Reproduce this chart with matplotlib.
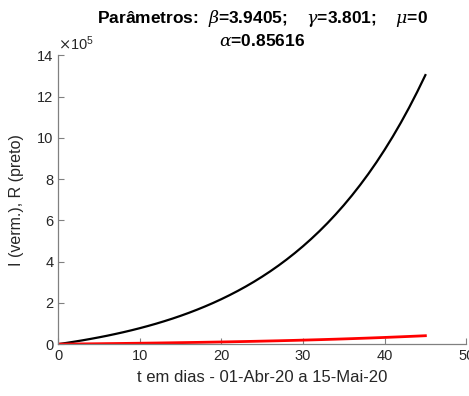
import matplotlib
matplotlib.use('Agg')
import matplotlib.pyplot as plt

# dias 0..45 (01-Abr-20 a 15-Mai-20)
t = list(range(0, 46))
# R (preto), em unidades de 1e5
R = [0, 0.058, 0.120, 0.185, 0.255, 0.329, 0.407, 0.491, 0.579, 0.673,
     0.773, 0.879, 0.991, 1.111, 1.237, 1.372, 1.515, 1.667, 1.828, 1.999,
     2.181, 2.374, 2.579, 2.796, 3.027, 3.273, 3.533, 3.810, 4.104, 4.416,
     4.747, 5.099, 5.472, 5.868, 6.290, 6.736, 7.211, 7.715, 8.249, 8.817,
     9.422, 10.062, 10.743, 11.466, 12.234, 13.047]
# I (vermelho), em unidades de 1e5
I = [0, 0.004, 0.008, 0.012, 0.016, 0.020, 0.025, 0.029, 0.034, 0.039,
     0.044, 0.049, 0.054, 0.060, 0.066, 0.072, 0.078, 0.084, 0.091, 0.098,
     0.105, 0.112, 0.120, 0.128, 0.136, 0.145, 0.154, 0.163, 0.173, 0.183,
     0.194, 0.205, 0.216, 0.228, 0.240, 0.253, 0.266, 0.280, 0.294, 0.309,
     0.324, 0.340, 0.356, 0.373, 0.390, 0.408]

plt.rcParams['font.family'] = ['Liberation Sans', 'DejaVu Sans']
plt.rcParams['mathtext.fontset'] = 'dejavuserif'

fig = plt.figure(figsize=(4.69, 3.96), dpi=100)
ax = fig.add_axes([0.124, 0.131, 0.870, 0.729])

ax.plot(t, R, color='black', linewidth=1.6)
ax.plot(t, I, color='red', linewidth=2)

ax.set_xlim(0, 50)
ax.set_ylim(0, 14)
ax.set_xticks([0, 10, 20, 30, 40, 50])
ax.set_yticks([0, 2, 4, 6, 8, 10, 12, 14])

for s in ['top', 'right']:
    ax.spines[s].set_visible(False)
for s in ['left', 'bottom']:
    ax.spines[s].set_color('#808080')
    ax.spines[s].set_linewidth(0.9)
ax.tick_params(direction='in', length=4, labelsize=10.5, colors='#808080',
               labelcolor='#262626')

ax.text(0.0, 1.01, '$\\times\\mathregular{10^5}$', transform=ax.transAxes,
        fontsize=10.5, color='#262626', ha='left', va='bottom')

ax.set_xlabel('t em dias - 01-Abr-20 a 15-Mai-20', fontsize=12, color='#262626',
              labelpad=5)
ax.set_ylabel('I (verm.), R (preto)', fontsize=11.5, color='#262626', labelpad=9)
ax.set_title('Parâmetros:  $\\beta$=3.9405;    $\\gamma$=3.801;    $\\mu$=0\n$\\alpha$=0.85616',
             fontsize=12.5, fontweight='bold', pad=7, linespacing=1.3)

fig.savefig('out.png', dpi=100)
